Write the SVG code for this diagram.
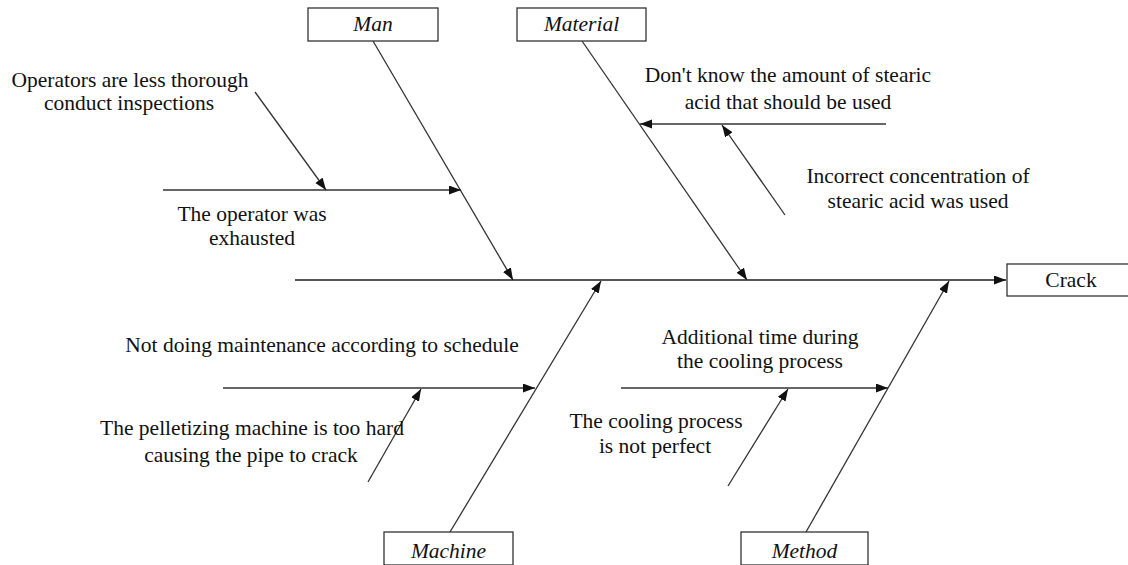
<svg xmlns="http://www.w3.org/2000/svg" width="1128" height="565" viewBox="0 0 1128 565">
<style>
  .t{font-family:"Liberation Serif","Times New Roman",serif;font-size:21.5px;fill:#111;text-anchor:middle}
  .cat{font-style:italic}
  .box{fill:#fff;stroke:#333;stroke-width:1.3}
  .ln{stroke:#333;stroke-width:1.3;fill:none}
  .spine{stroke:#555;stroke-width:2;fill:none}
</style>
<defs>
  <marker id="ah" markerUnits="userSpaceOnUse" markerWidth="13" markerHeight="10" refX="12" refY="4.5" orient="auto">
    <path d="M0,0 L12,4.5 L0,9 z" fill="#111"/>
  </marker>
</defs>
<rect width="1128" height="565" fill="#fff"/>
<g id="connectors">
  <line class="spine" x1="295" y1="280" x2="1006" y2="280" marker-end="url(#ah)"/>
  <line class="ln" x1="373" y1="41" x2="513" y2="280" marker-end="url(#ah)"/>
  <line class="ln" x1="582" y1="41" x2="747" y2="280" marker-end="url(#ah)"/>
  <line class="ln" x1="450" y1="532" x2="601" y2="281" marker-end="url(#ah)"/>
  <line class="ln" x1="806" y1="532" x2="949" y2="281" marker-end="url(#ah)"/>
  <line class="ln" x1="163" y1="190" x2="461" y2="190" marker-end="url(#ah)"/>
  <line class="ln" x1="255" y1="92" x2="326" y2="190" marker-end="url(#ah)"/>
  <line class="ln" x1="886" y1="124" x2="640" y2="124" marker-end="url(#ah)"/>
  <line class="ln" x1="785" y1="215" x2="722" y2="125" marker-end="url(#ah)"/>
  <line class="ln" x1="223" y1="388" x2="535" y2="388" marker-end="url(#ah)"/>
  <line class="ln" x1="368" y1="482" x2="421" y2="389" marker-end="url(#ah)"/>
  <line class="ln" x1="621" y1="388" x2="888" y2="388" marker-end="url(#ah)"/>
  <line class="ln" x1="728" y1="486" x2="788" y2="389" marker-end="url(#ah)"/>
</g>
<g id="man"><rect class="box" x="308" y="8" width="130" height="33"/><text class="t cat" x="373" y="31">Man</text></g>
<g id="material"><rect class="box" x="517" y="8" width="129" height="33"/><text class="t cat" x="581.5" y="31">Material</text></g>
<g id="machine"><rect class="box" x="384" y="532" width="129" height="33"/><text class="t cat" x="448.5" y="558">Machine</text></g>
<g id="method"><rect class="box" x="741" y="532" width="127" height="33"/><text class="t cat" x="804.5" y="558">Method</text></g>
<g id="crack"><rect class="box" x="1007" y="264" width="122" height="32"/><text class="t" x="1071" y="287">Crack</text></g>
<g id="c-man-1"><text class="t" x="130" y="87">Operators are less thorough</text><text class="t" x="129" y="110">conduct inspections</text></g>
<g id="c-man-2"><text class="t" x="252" y="221">The operator was</text><text class="t" x="252" y="245">exhausted</text></g>
<g id="c-mat-1"><text class="t" x="788" y="82">Don't know the amount of stearic</text><text class="t" x="788" y="109">acid that should be used</text></g>
<g id="c-mat-2"><text class="t" x="918" y="183">Incorrect concentration of</text><text class="t" x="918" y="208">stearic acid was used</text></g>
<g id="c-mac-1"><text class="t" x="322" y="352">Not doing maintenance according to schedule</text></g>
<g id="c-mac-2"><text class="t" x="252" y="435">The pelletizing machine is too hard</text><text class="t" x="251" y="462">causing the pipe to crack</text></g>
<g id="c-met-1"><text class="t" x="760" y="344">Additional time during</text><text class="t" x="760" y="368">the cooling process</text></g>
<g id="c-met-2"><text class="t" x="656" y="428">The cooling process</text><text class="t" x="655" y="453">is not perfect</text></g>
</svg>
